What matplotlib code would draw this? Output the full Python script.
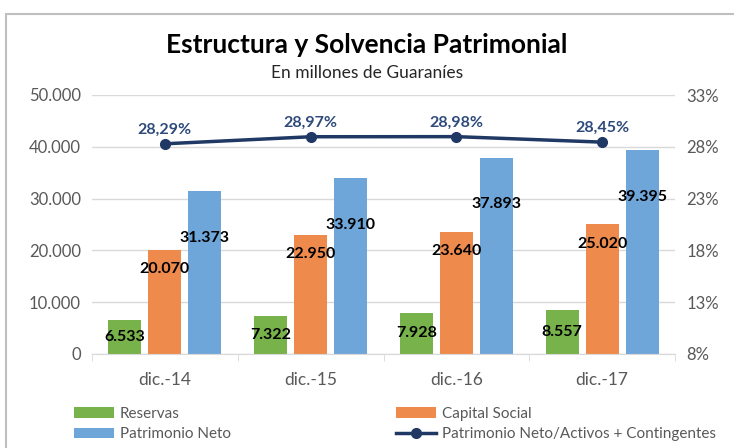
import matplotlib.pyplot as plt
import matplotlib.patches as mpatches
import numpy as np

# data
categories = ['dic.-14', 'dic.-15', 'dic.-16', 'dic.-17']
reservas = [6533, 7322, 7928, 8557]
capital_social = [20070, 22950, 23640, 25020]
patrimonio_neto = [31373, 33910, 37893, 39395]
ratio = [28.29, 28.97, 28.98, 28.45]

GREEN = '#77B24A'
ORANGE = '#EE8B4C'
BLUE = '#6FA6DA'
NAVY = '#1F3864'
GRAY = '#595959'

plt.rcParams['font.family'] = ['Lato', 'DejaVu Sans']


def fmt_miles(v):
    return f'{v:,.0f}'.replace(',', '.')


fig = plt.figure(figsize=(7.34, 4.48), dpi=100)
ax = fig.add_axes([92 / 734, 1 - 354 / 448, (675 - 92) / 734, (354 - 95) / 448])

x = np.arange(len(categories))
w = 0.226
step = 0.274
ax.bar(x - step, reservas, w, color=GREEN, label='Reservas', zorder=2)
ax.bar(x, capital_social, w, color=ORANGE, label='Capital Social', zorder=2)
ax.bar(x + step, patrimonio_neto, w, color=BLUE, label='Patrimonio Neto', zorder=2)

lbl = dict(ha='center', va='center', fontsize=11.5, fontweight='bold', color='black', zorder=4)
for i in range(len(categories)):
    ax.text(x[i] - step, reservas[i] / 2, fmt_miles(reservas[i]), **lbl)
    ax.text(x[i], capital_social[i] - 3700, fmt_miles(capital_social[i]), **lbl)
    ax.text(x[i] + step, patrimonio_neto[i] - 9000, fmt_miles(patrimonio_neto[i]), **lbl)

ax.set_xlim(-0.5, len(categories) - 0.5)
ax.set_ylim(0, 50000)
ax.set_yticks(range(0, 50001, 10000))
ax.set_yticklabels([fmt_miles(v) for v in range(0, 50001, 10000)])
ax.set_xticks(x)
ax.set_xticklabels(categories)
ax.set_xticks(np.arange(-0.5, len(categories)), minor=True)
ax.tick_params(axis='x', which='major', length=0, pad=13, labelsize=12.5, labelcolor=GRAY)
ax.tick_params(axis='x', which='minor', length=5, color='#D9D9D9')
ax.tick_params(axis='y', length=0, pad=8, labelsize=12, labelcolor=GRAY)
ax.grid(axis='y', color='#D9D9D9', linewidth=1, zorder=0)
for s in ['top', 'right', 'left']:
    ax.spines[s].set_visible(False)
ax.spines['bottom'].set_color('#D9D9D9')

ax2 = ax.twinx()
ax2.plot(x, ratio, color=NAVY, linewidth=2.5, marker='o', markersize=7,
         label='Patrimonio Neto/Activos + Contingentes', zorder=3)
for i in range(len(categories)):
    ax2.annotate(f'{ratio[i]:.2f}%'.replace('.', ','), (x[i], ratio[i]),
                 xytext=(0, 5), textcoords='offset points', ha='center', va='bottom',
                 fontsize=11.5, fontweight='bold', color='#2E4A7A')
ax2.set_ylim(8, 33)
ax2.set_yticks(range(8, 34, 5))
ax2.set_yticklabels([f'{v}%' for v in range(8, 34, 5)])
ax2.tick_params(axis='y', length=0, pad=8, labelsize=12, labelcolor=GRAY)
for s in ax2.spines.values():
    s.set_visible(False)

fig.text(0.5, 1 - 45 / 448, 'Estructura y Solvencia Patrimonial', ha='center', va='center',
         fontsize=19, fontweight='bold', color='black')
fig.text(0.5, 1 - 73 / 448, 'En millones de Guaraníes', ha='center', va='center',
         fontsize=12.5, color='#262626')

h1, l1 = ax.get_legend_handles_labels()
h2, l2 = ax2.get_legend_handles_labels()
handles = [h1[0], h1[2], h1[1], h2[0]]
labels = [l1[0], l1[2], l1[1], l2[0]]
fig.legend(handles, labels, ncol=2, loc='center left', bbox_to_anchor=(68 / 734, 1 - 424 / 448),
           frameon=False, fontsize=11, labelcolor=GRAY, handlelength=2.6, handleheight=0.7,
           handletextpad=0.4, columnspacing=10.8, labelspacing=0.45, borderaxespad=0)

# chart border
fig.patches.append(mpatches.Rectangle((6 / 734, -0.1), 1.1, 1 - 14 / 448 + 0.1,
                                      transform=fig.transFigure, fill=False,
                                      edgecolor='#BFBFBF', linewidth=1.5))

fig.savefig('out.png', dpi=100)
